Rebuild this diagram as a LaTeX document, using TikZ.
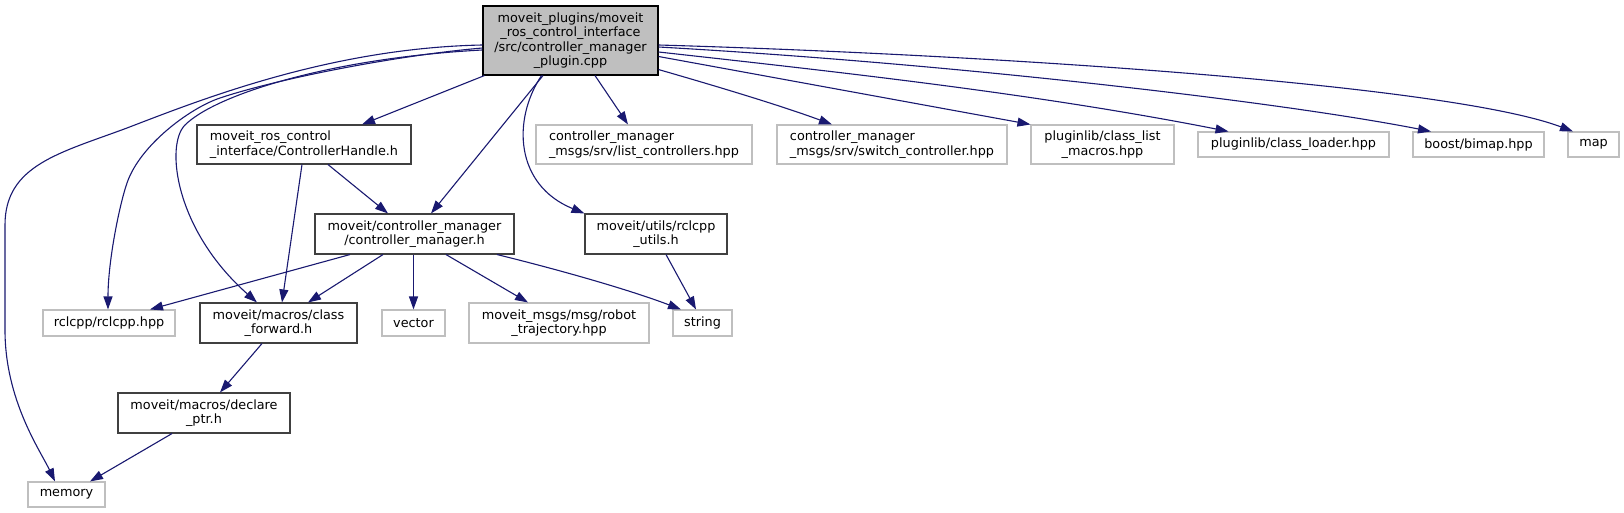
\documentclass[tikz,border=0pt]{standalone}
\usepackage{fontspec}
\setmainfont{DejaVu Sans}
\usetikzlibrary{arrows.meta}
\definecolor{edgec}{HTML}{191970}
\definecolor{greyb}{HTML}{BFBFBF}
\definecolor{darkb}{HTML}{404040}
\begin{document}
\begin{tikzpicture}[x=1pt,y=-1pt,
  box/.style={draw, line width=1.1pt, inner sep=0pt, font=\fontsize{12.8}{14.4}\selectfont, align=center},
  doc/.style={box, draw=darkb},
  ext/.style={box, draw=greyb},
  dep/.style={draw=edgec, line width=1.1pt, -{Triangle[length=13pt,width=9pt]}}]
\useasboundingbox (0,0) rectangle (1624,513);

\node[box, draw=black, fill=greyb, minimum width=175, minimum height=69] (root) at (570.5,40.5)
  {moveit\_plugins/moveit\\\_ros\_control\_interface\\/src/controller\_manager\\\_plugin.cpp};
\node[doc, align=left, minimum width=214, minimum height=39] (CH) at (304,144.5)
  {moveit\_ros\_control\\\_interface/ControllerHandle.h};
\node[ext, align=left, minimum width=216, minimum height=39] (list) at (644,144.5)
  {controller\_manager\\\_msgs/srv/list\_controllers.hpp};
\node[ext, align=left, minimum width=230, minimum height=39] (switch) at (892,144.5)
  {controller\_manager\\\_msgs/srv/switch\_controller.hpp};
\node[ext, minimum width=143, minimum height=39] (macros) at (1102.5,144.5)
  {pluginlib/class\_list\\\_macros.hpp};
\node[ext, minimum width=191, minimum height=25] (loader) at (1293.5,144.5) {pluginlib/class\_loader.hpp};
\node[ext, minimum width=131, minimum height=25] (bimap) at (1478.5,144.5) {boost/bimap.hpp};
\node[ext, minimum width=51, minimum height=25] (map) at (1593.5,144.5) {map};
\node[doc, minimum width=199, minimum height=40] (cm) at (414.5,234)
  {moveit/controller\_manager\\/controller\_manager.h};
\node[doc, minimum width=142, minimum height=40] (utils) at (656,234)
  {moveit/utils/rclcpp\\\_utils.h};
\node[ext, minimum width=132, minimum height=26] (rclcpp) at (109,323) {rclcpp/rclcpp.hpp};
\node[doc, minimum width=157, minimum height=40] (cf) at (278.5,323)
  {moveit/macros/class\\\_forward.h};
\node[ext, minimum width=63, minimum height=26] (vector) at (413.5,323) {vector};
\node[ext, minimum width=180, minimum height=40] (traj) at (559,323)
  {moveit\_msgs/msg/robot\\\_trajectory.hpp};
\node[ext, minimum width=59, minimum height=26] (string) at (702.5,323) {string};
\node[doc, minimum width=172, minimum height=40] (declare) at (204,413)
  {moveit/macros/declare\\\_ptr.h};
\node[ext, minimum width=77, minimum height=25] (memory) at (66.5,494.5) {memory};

% edges from root
\draw[dep] ([xshift=-86]root.south) -- ([xshift=58]CH.north);
\draw[dep] ([xshift=-27.5]root.south) -- ([xshift=16.5]cm.north);
\draw[dep] ([xshift=-29]root.south) .. controls (512,120) and (515,185) .. (utils.north west);
\draw[dep] ([xshift=24.5]root.south) -- ([xshift=-16]list.north);
\draw[dep] ([yshift=6]root.south east) .. controls (740,93) and (790,109) .. ([xshift=-60]switch.north);
\draw[dep] ([yshift=-16]root.east) -- (macros.north west);
\draw[dep] ([yshift=-11.5]root.east) .. controls (848,73) and (1038,94) .. ([xshift=-65]loader.north);
\draw[dep] ([yshift=-6.5]root.east) .. controls (958,64) and (1281,102) .. ([xshift=-47.5]bimap.north);
\draw[dep] ([yshift=-4.5]root.east) .. controls (1000,55) and (1450,85) .. ([xshift=-20.5]map.north);
\draw[dep] ([yshift=-4.5]root.west) .. controls (330,48) and (200,100) .. (127,128)
  .. controls (60,153) and (5,165) .. (5,225) -- (5,330)
  .. controls (5,400) and (40,450) .. ([xshift=-11.5]memory.north);
\draw[dep] ([yshift=-7.5]root.west) .. controls (400,55) and (280,78) .. (220,98)
  .. controls (190,108) and (140,145) .. (127,183)
  .. controls (120,203) and (108,260) .. ([xshift=-1]rclcpp.north);
\draw[dep] ([yshift=-9.5]root.west) .. controls (330,58) and (215,95) .. (185,125)
  .. controls (165,145) and (175,230) .. ([xshift=-21.5]cf.north);

% other edges
\draw[dep] ([xshift=24]CH.south) -- ([xshift=-26.5]cm.north);
\draw[dep] ([xshift=-2]CH.south) -- ([xshift=3.5]cf.north);
\draw[dep] ([xshift=-64.5]cm.south) -- ([xshift=41]rclcpp.north);
\draw[dep] ([xshift=-31.5]cm.south) -- ([xshift=29.5]cf.north);
\draw[dep] ([xshift=-1]cm.south) -- (vector.north);
\draw[dep] ([xshift=31.5]cm.south) -- ([xshift=-31]traj.north);
\draw[dep] ([xshift=82.5]cm.south) .. controls (560,270) and (630,290) .. ([xshift=-21.5]string.north);
\draw[dep] ([xshift=10]utils.south) -- ([xshift=-6.5]string.north);
\draw[dep] ([xshift=-16.5]cf.south) -- ([xshift=16]declare.north);
\draw[dep] ([xshift=-32]declare.south) -- ([xshift=23.5]memory.north);
\end{tikzpicture}
\end{document}
